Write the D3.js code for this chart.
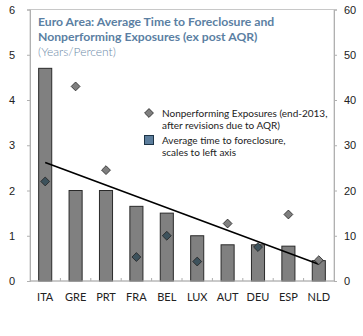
<!DOCTYPE html>
<html>
<head>
<meta charset="utf-8">
<script src="https://cdn.jsdelivr.net/npm/d3@7"></script>
<style>
  body { margin: 0; background: #fff; }
  svg { font-family: Lato, "Open Sans", sans-serif; }
</style>
</head>
<body>
<svg id="chart" width="363" height="336"></svg>
<script>
const countries = ["ITA", "GRE", "PRT", "FRA", "BEL", "LUX", "AUT", "DEU", "ESP", "NLD"]
const foreclosureYears = [4.7, 2.0, 2.0, 1.65, 1.5, 1.0, 0.8, 0.8, 0.77, 0.45]
const npePercent = [22, 43, 24.5, 5.3, 10, 4.3, 12.7, 7.5, 14.7, 4.6]
const trendYears = [2.62, 0.37]   // fitted line, ITA -> NLD
const leftTicks = [0, 1, 2, 3, 4, 5, 6]
const rightTicks = [0, 10, 20, 30, 40, 50, 60]

const dims = {
  width: 363,
  height: 336,
  margin: {top: 9.5, left: 30, right: 29, bottom: 55}
}
const innerW = dims.width - dims.margin.left - dims.margin.right
const innerH = dims.height - dims.margin.top - dims.margin.bottom

const svg = d3.select("#chart")
const g = svg.append("g")
  .attr("transform", `translate(${dims.margin.left},${dims.margin.top})`)

const x = d3.scaleBand().domain(countries).range([0, innerW]).paddingInner(0.57).paddingOuter(0.285)
const yL = d3.scaleLinear().domain([0, 6]).range([innerH, 0])
const yR = d3.scaleLinear().domain([0, 60]).range([innerH, 0])

// frame
g.append("rect")
  .attr("width", innerW).attr("height", innerH)
  .attr("fill", "none").attr("stroke", "#c8c8c8").attr("stroke-width", 1)

// left axis
const axL = g.append("g")
  .call(d3.axisLeft(yL).tickValues(leftTicks).tickFormat(d3.format("d")).tickSize(3).tickPadding(12))
axL.select(".domain").attr("stroke", "#b0b0b0")
axL.selectAll(".tick line").attr("stroke", "#b0b0b0")
axL.selectAll("text").attr("font-size", 11).attr("fill", "#222")

// right axis
const axR = g.append("g")
  .attr("transform", `translate(${innerW},0)`)
  .call(d3.axisRight(yR).tickValues(rightTicks).tickFormat(d3.format("d")).tickSize(3).tickPadding(7))
axR.select(".domain").attr("stroke", "#b0b0b0")
axR.selectAll(".tick line").attr("stroke", "#b0b0b0")
axR.selectAll("text").attr("font-size", 11).attr("fill", "#222")

// bars
g.selectAll(".bar")
  .data(countries)
  .join("rect")
    .attr("class", "bar")
    .attr("x", d => x(d))
    .attr("width", x.bandwidth())
    .attr("y", (d, i) => yL(foreclosureYears[i]))
    .attr("height", (d, i) => innerH - yL(foreclosureYears[i]))
    .attr("fill", "#808080")
    .attr("stroke", "#2a2a2a")
    .attr("stroke-width", 1)

// bottom axis
const step = x.step()
const axB = g.append("g").attr("transform", `translate(0,${innerH})`)
axB.append("line").attr("x1", 0).attr("x2", innerW).attr("stroke", "#b0b0b0")
axB.selectAll(".tk")
  .data(d3.range(1, countries.length))
  .join("line")
    .attr("x1", d => d * step).attr("x2", d => d * step)
    .attr("y1", 0).attr("y2", -3)
    .attr("stroke", "#b0b0b0")
axB.selectAll("text")
  .data(countries)
  .join("text")
    .attr("x", d => x(d) + x.bandwidth() / 2)
    .attr("y", 20)
    .attr("text-anchor", "middle")
    .attr("font-size", 11)
    .attr("fill", "#222")
    .text(d => d)

// trend line
g.append("line")
  .attr("x1", x(countries[0]) + x.bandwidth() / 2)
  .attr("x2", x(countries[countries.length - 1]) + x.bandwidth() / 2)
  .attr("y1", yL(trendYears[0]))
  .attr("y2", yL(trendYears[1]))
  .attr("stroke", "#000").attr("stroke-width", 1.6)

// diamonds
const diamond = d3.symbol().type(d3.symbolDiamond2).size(50)
g.selectAll(".npe")
  .data(countries)
  .join("path")
    .attr("class", "npe")
    .attr("d", diamond)
    .attr("transform", (d, i) => `translate(${x(d) + x.bandwidth() / 2},${yR(npePercent[i])})`)
    .attr("fill", (d, i) => yR(npePercent[i]) > yL(foreclosureYears[i]) ? "#3d525c" : "#7f7f7f")
    .attr("stroke", "#222")
    .attr("stroke-width", 0.8)

// title
const title = svg.append("g").attr("transform", "translate(38,0)")
title.append("text").attr("y", 26).attr("font-size", 12.2).attr("font-weight", "bold")
  .attr("fill", "#5b7fa3").text("Euro Area: Average Time to Foreclosure and")
title.append("text").attr("y", 41).attr("font-size", 12.2).attr("font-weight", "bold")
  .attr("fill", "#5b7fa3").text("Nonperforming Exposures (ex post AQR)")
title.append("text").attr("y", 56).attr("font-size", 12).attr("font-weight", 300).attr("fill", "#6d8aa8")
  .text("(Years/Percent)")

// legend
const leg = svg.append("g").attr("transform", "translate(149,0)")
leg.append("path").attr("d", diamond).attr("transform", "translate(0,113)")
  .attr("fill", "#7f7f7f").attr("stroke", "#222").attr("stroke-width", 0.8)
leg.append("rect").attr("x", -4.5).attr("y", 135.5).attr("width", 9).attr("height", 9)
  .attr("fill", "#5c7d9c").attr("stroke", "#1d3447").attr("stroke-width", 1)
const legText = [
  ["Nonperforming Exposures (end-2013,", 117],
  ["after revisions due to AQR)", 129],
  ["Average time to foreclosure,", 144],
  ["scales to left axis", 156]
]
leg.selectAll(".lt")
  .data(legText)
  .join("text")
    .attr("x", 13)
    .attr("y", d => d[1])
    .attr("font-size", 10)
    .attr("fill", "#222")
    .text(d => d[0])
</script>
</body>
</html>
